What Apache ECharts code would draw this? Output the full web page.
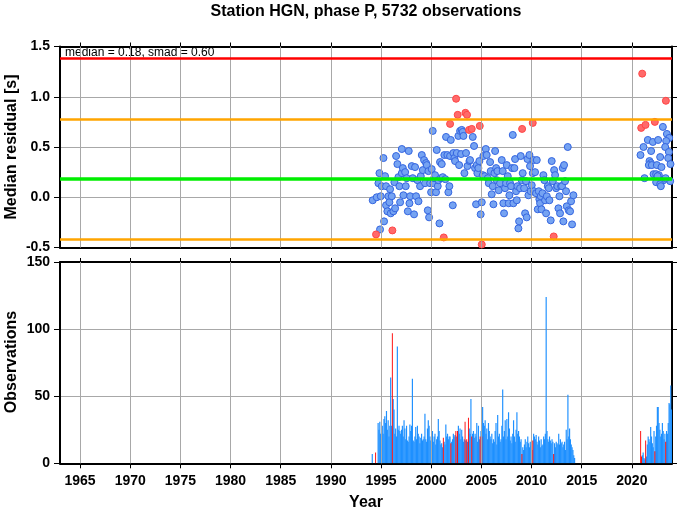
<!DOCTYPE html>
<html><head><meta charset="utf-8">
<script src="https://cdn.jsdelivr.net/npm/echarts@6/dist/echarts.min.js"></script>
<style>html,body{margin:0;padding:0;background:#fff}#c{width:678px;height:511px}</style>
</head><body><div id="c"></div>
<script>
const titleText = 'Station HGN, phase P, 5732 observations';
const medianVal = 0.18, smadVal = 0.60;
const refLevels = { red: 1.38, orangeHi: 0.78, green: 0.18, orangeLo: -0.42 };
const xTickYears = [1965,1970,1975,1980,1985,1990,1995,2000,2005,2010,2015,2020];

const residualBlue = [
[1994.17,-0.03],[1994.57,0.0],[1994.74,0.14],[1994.84,0.24],[1994.97,0.01],[1995.24,0.39],[1995.3,-0.24],[1994.9,-0.32],
[1995.07,0.11],[1995.4,0.21],[1995.5,0.11],[1995.5,-0.08],[1995.63,-0.14],[1995.73,0.01],[1995.83,-0.05],[1995.9,0.08],
[1995.97,-0.16],[1996.07,0.01],[1996.23,-0.14],[1996.33,0.15],[1996.4,-0.11],[1996.5,0.41],[1996.63,0.33],[1996.73,0.2],
[1996.83,0.11],[1996.9,-0.05],[1997.07,0.48],[1997.07,0.24],[1997.17,0.29],[1997.23,0.02],[1997.4,0.25],[1997.46,0.11],
[1997.56,0.19],[1997.67,-0.14],[1997.76,0.46],[1997.83,-0.06],[1997.9,0.01],[1998.06,0.31],[1998.16,0.19],[1998.29,-0.17],
[1998.39,0.3],[1998.49,0.01],[1998.63,0.17],[1998.73,-0.04],[1998.89,0.11],[1998.96,0.21],[1999.06,0.42],[1999.16,0.27],
[1999.29,0.37],[1999.39,0.14],[1999.49,0.34],[1999.56,0.32],[1999.66,-0.13],[1999.72,0.26],[1999.79,-0.2],[1999.89,0.14],
[1999.99,0.05],[2000.05,0.28],[2000.15,0.66],[2000.22,0.14],[2000.29,0.19],[2000.38,0.22],[2000.48,0.05],[2000.55,0.47],
[2000.65,0.11],[2000.72,0.17],[2000.82,-0.26],[2000.88,0.35],[2000.98,0.19],[2001.05,0.33],[2001.15,0.2],[2001.31,0.42],
[2001.41,0.18],[2001.48,0.6],[2001.61,0.42],[2001.71,0.05],[2001.81,0.11],[2001.88,0.41],[2001.95,0.57],[2002.15,-0.08],
[2002.21,0.44],[2002.31,0.39],[2002.38,0.36],[2002.55,0.44],[2002.71,0.61],[2002.78,0.32],[2002.88,0.66],[2002.98,0.43],
[2003.04,0.67],[2003.14,0.65],[2003.21,0.61],[2003.31,0.24],[2003.47,0.44],[2003.61,0.31],[2003.81,0.36],[2003.87,0.37],
[2004.14,0.6],[2004.27,0.51],[2004.37,0.29],[2004.47,-0.07],[2004.54,0.32],[2004.6,0.24],[2004.7,0.29],[2004.8,0.36],
[2004.93,-0.17],[2005.04,-0.05],[2005.14,0.22],[2005.2,0.41],[2005.34,0.21],[2005.44,0.48],[2005.53,0.42],[2005.64,0.19],
[2005.74,0.14],[2005.87,0.35],[2005.93,0.26],[2006.03,0.03],[2006.13,0.11],[2006.2,-0.07],[2006.3,0.24],[2006.37,0.46],
[2006.47,0.29],[2006.53,0.17],[2006.6,0.26],[2006.73,0.07],[2006.86,0.14],[2007.03,0.37],[2007.13,0.26],[2007.19,-0.06],
[2007.26,-0.16],[2007.36,0.09],[2007.46,0.14],[2007.53,0.32],[2007.63,0.21],[2007.73,-0.06],[2007.79,0.02],[2007.86,0.14],
[2007.96,0.11],[2008.06,0.29],[2008.13,0.62],[2008.19,-0.06],[2008.29,0.29],[2008.36,0.38],[2008.46,0.06],[2008.53,-0.03],
[2008.59,0.11],[2008.69,-0.31],[2008.76,-0.24],[2008.86,0.09],[2008.92,0.41],[2009.02,0.17],[2009.12,0.24],[2009.26,0.09],
[2009.36,-0.16],[2009.45,0.16],[2009.52,-0.2],[2009.59,0.38],[2009.69,0.02],[2009.79,0.42],[2009.85,0.31],[2009.92,0.06],
[2010.02,0.12],[2010.12,0.24],[2010.19,0.37],[2010.25,0.06],[2010.35,0.25],[2010.45,0.04],[2010.52,0.37],[2010.62,-0.12],
[2010.72,0.06],[2010.78,-0.02],[2010.85,-0.06],[2010.92,0.01],[2010.99,-0.12],[2011.09,0.04],[2011.18,0.22],[2011.28,0.17],
[2011.35,-0.03],[2011.45,-0.16],[2011.52,0.01],[2011.62,0.11],[2011.72,0.09],[2011.78,-0.03],[2011.91,-0.23],[2012.01,0.36],
[2012.12,0.16],[2012.25,0.27],[2012.35,0.22],[2012.45,0.09],[2012.58,0.11],[2012.68,-0.11],[2012.78,0.01],[2012.84,-0.16],
[2012.94,0.11],[2013.04,0.11],[2013.11,0.29],[2013.17,-0.24],[2013.24,0.32],[2013.34,0.16],[2013.44,0.06],[2013.51,-0.09],
[2013.61,0.5],[2013.71,-0.13],[2013.84,-0.14],[2013.94,-0.04],[2014.04,-0.27],[2014.17,0.02],
[2023.09,0.7],[2023.49,0.63],[2023.72,0.59],[2021.59,0.57],[2022.09,0.55],[2022.62,0.57],[2023.42,0.56],[2021.16,0.5],
[2023.32,0.5],[2021.92,0.46],[2020.86,0.42],[2023.69,0.45],[2022.82,0.4],[2023.62,0.39],[2021.76,0.36],[2021.89,0.34],
[2021.69,0.32],[2021.99,0.32],[2022.49,0.32],[2022.95,0.3],[2023.85,0.33],[2022.16,0.23],[2022.42,0.23],[2022.69,0.22],
[2021.26,0.19],[2022.56,0.21],[2023.16,0.17],[2023.82,0.16],[2022.42,0.15],[2022.82,0.13],[2022.89,0.11],[2023.36,0.19]
];
const residualRed = [
[1994.5,-0.37],[1996.13,-0.33],[2001.25,-0.4],[2001.88,0.73],[2002.48,0.98],[2002.64,0.82],[2003.41,0.84],[2003.57,0.82],
[2003.77,0.67],[2004.04,0.68],[2004.84,0.71],[2005.04,-0.47],[2009.06,0.68],[2010.12,0.74],[2012.21,-0.39],
[2021.03,1.23],[2023.39,0.96],[2020.93,0.69],[2021.36,0.72],[2022.29,0.75]
];

// monthly observation counts, first block starts Jan 1994
const obsStart1 = [1994, 1];
const obsCounts1 = [
0,7,0,0,0,8,0,0,30,25,31,22,
23,28,22,33,35,30,39,25,32,20,28,64,
28,97,48,40,22,26,20,87,25,28,24,22,
25,28,20,32,26,18,28,17,16,20,29,24,
28,63,17,16,20,27,18,28,22,20,15,19,
22,17,18,20,37,18,16,26,32,28,20,17,
17,24,16,20,22,14,18,20,33,24,17,14,
15,12,19,16,14,29,20,22,18,20,20,15,
16,18,22,20,21,24,20,24,28,22,26,18,
25,20,16,18,31,17,18,16,34,26,22,48,
20,22,24,19,22,20,30,16,28,18,20,24,
20,42,30,28,32,22,26,18,30,24,20,18,
22,15,18,16,24,30,14,36,20,22,16,18,
28,55,20,24,32,18,33,20,38,26,17,20,
15,22,32,20,16,25,38,22,24,20,16,18,
7,12,10,14,18,12,16,20,15,12,16,13,
10,17,22,20,18,21,16,14,20,17,12,18,
13,14,20,18,22,124,24,18,16,20,17,15,
18,16,7,15,12,16,15,14,22,14,18,15,
16,12,14,16,10,25,18,51,20,26,18,14,
12,10,6,4
];
// second block starts Nov 2020
const obsStart2 = [2020, 11];
const obsCounts2 = [
24,5,
6,8,4,3,17,5,14,20,18,16,27,20,
15,12,24,9,20,28,42,42,30,25,20,22,
30,24,18,22,16,24,22,30,45,44,58,40
];
const redMonths = ['1994-06','1996-02','2001-03','2001-12','2002-06','2002-08','2003-05','2003-07','2003-09',
'2004-01','2004-11','2005-01','2009-01','2010-02','2012-03','2020-11','2020-12','2021-05','2022-04','2023-05'];

function buildBars(start, counts, blue, red) {
  counts.forEach((c, i) => {
    let y = start[0], m = start[1] + i;
    y += Math.floor((m - 1) / 12); m = ((m - 1) % 12) + 1;
    const key = y + '-' + (m < 10 ? '0' + m : '' + m);
    const x = y + (m - 0.5) / 12;
    if (c <= 0) return;
    (redMonths.includes(key) ? red : blue).push([x, c]);
  });
}
const barsBlue = [], barsRed = [];
buildBars(obsStart1, obsCounts1, barsBlue, barsRed);
buildBars(obsStart2, obsCounts2, barsBlue, barsRed);

const FONT = '"Liberation Sans", Arial, Helvetica, sans-serif';
const GRIDC = '#a8a8a8';

function barRender(color, frac) {
  return function (params, api) {
    const x = api.value(0), v = api.value(1);
    const p0 = api.coord([x - frac / 24, v]);
    const p1 = api.coord([x + frac / 24, 0]);
    return { type: 'rect', shape: { x: p0[0], y: p0[1], width: p1[0] - p0[0], height: p1[1] - p0[1] },
      style: { fill: color } };
  };
}

const xBase = { type: 'value', min: 1963, max: 2024, splitLine: { show: false },
  axisLine: { show: true, onZero: false, lineStyle: { color: '#000', width: 2 } } };
const tickStyle = { show: true, inside: false, length: 5, customValues: xTickYears, lineStyle: { color: '#000', width: 1 } };

const vGrid = (xi, yi) => ({
  type: 'scatter', xAxisIndex: xi, yAxisIndex: yi, data: [], z: 1, silent: true,
  markLine: { silent: true, symbol: 'none', animation: false, label: { show: false },
    lineStyle: { color: GRIDC, width: 1, type: 'solid' },
    data: xTickYears.map(v => ({ xAxis: v })) }
});

const chart = echarts.init(document.getElementById('c'), null, { renderer: 'canvas' });
chart.setOption({
  animation: false,
  backgroundColor: '#fff',
  grid: [
    { left: 60, right: 6, top: 46.5, height: 201, containLabel: false },
    { left: 60, right: 6, top: 262, height: 201.3, containLabel: false }
  ],
  xAxis: [
    Object.assign({}, xBase, { gridIndex: 0, position: 'bottom', axisTick: { show: false }, axisLabel: { show: false } }),
    Object.assign({}, xBase, { gridIndex: 0, position: 'top', axisTick: Object.assign({}, tickStyle, { length: 4 }), axisLabel: { show: false } }),
    Object.assign({}, xBase, { gridIndex: 1, position: 'bottom', axisTick: tickStyle,
      axisLabel: { show: true, customValues: xTickYears, margin: 11, color: '#000', fontFamily: FONT, fontWeight: 'bold', fontSize: 14, formatter: v => String(v) } }),
    Object.assign({}, xBase, { gridIndex: 1, position: 'top', axisTick: Object.assign({}, tickStyle, { length: 4 }), axisLabel: { show: false } })
  ],
  yAxis: [
    { type: 'value', gridIndex: 0, position: 'left', min: -0.5, max: 1.5, interval: 0.5,
      axisLine: { show: true, lineStyle: { color: '#000', width: 2 } },
      axisTick: { show: true, inside: false, length: 6, lineStyle: { color: '#000' } },
      axisLabel: { color: '#000', fontFamily: FONT, fontWeight: 'bold', fontSize: 14, margin: 10, formatter: v => v.toFixed(1) },
      splitLine: { show: true, lineStyle: { color: GRIDC, width: 1 } } },
    { type: 'value', gridIndex: 0, position: 'right', min: -0.5, max: 1.5, interval: 0.5,
      axisLine: { show: true, lineStyle: { color: '#000', width: 2 } },
      axisTick: { show: true, inside: false, length: 5, lineStyle: { color: '#000' } },
      axisLabel: { show: false }, splitLine: { show: false } },
    { type: 'value', gridIndex: 1, position: 'left', min: 0, max: 150, interval: 50,
      axisLine: { show: true, lineStyle: { color: '#000', width: 2 } },
      axisTick: { show: true, inside: false, length: 6, lineStyle: { color: '#000' } },
      axisLabel: { color: '#000', fontFamily: FONT, fontWeight: 'bold', fontSize: 14, margin: 10 },
      splitLine: { show: true, lineStyle: { color: GRIDC, width: 1 } } },
    { type: 'value', gridIndex: 1, position: 'right', min: 0, max: 150, interval: 50,
      axisLine: { show: true, lineStyle: { color: '#000', width: 2 } },
      axisTick: { show: true, inside: false, length: 5, lineStyle: { color: '#000' } },
      axisLabel: { show: false }, splitLine: { show: false } }
  ],
  series: [
    vGrid(0, 0),
    vGrid(2, 2),
    { type: 'scatter', xAxisIndex: 0, yAxisIndex: 0, data: [], z: 2, silent: true,
      markLine: { silent: true, symbol: 'none', animation: false, label: { show: false },
        data: [
          { yAxis: refLevels.red, lineStyle: { color: '#ff0000', width: 2.5, type: 'solid' } },
          { yAxis: refLevels.orangeHi, lineStyle: { color: '#ffa500', width: 2.5, type: 'solid' } },
          { yAxis: refLevels.green, lineStyle: { color: '#00ee00', width: 3.5, type: 'solid' } },
          { yAxis: refLevels.orangeLo, lineStyle: { color: '#ffa500', width: 2.5, type: 'solid' } }
        ] } },
    { type: 'scatter', xAxisIndex: 0, yAxisIndex: 0, data: residualBlue, symbol: 'circle', symbolSize: 7, z: 3,
      itemStyle: { color: '#75a3f2', borderColor: '#3465e0', borderWidth: 1, opacity: 1 } },
    { type: 'scatter', xAxisIndex: 0, yAxisIndex: 0, data: residualRed, symbol: 'circle', symbolSize: 7, z: 4,
      itemStyle: { color: '#ff6a6a', borderColor: '#ff4545', borderWidth: 1, opacity: 1 } },
    { type: 'custom', xAxisIndex: 2, yAxisIndex: 2, data: barsBlue, renderItem: barRender('#1e90ff', 1.4), z: 3, clip: true },
    { type: 'custom', xAxisIndex: 2, yAxisIndex: 2, data: barsRed, renderItem: barRender('#ff0000', 1.1), z: 4, clip: true }
  ],
  graphic: [
    { type: 'text', x: 366, y: 4, z: 10, style: { text: titleText, fill: '#000', font: 'bold 16px ' + FONT, textAlign: 'center', textVerticalAlign: 'top' } },
    { type: 'text', x: 65, y: 47, z: 1, style: { text: 'median = ' + medianVal.toFixed(2) + ', smad = ' + smadVal.toFixed(2), fill: '#000', font: '12px ' + FONT, textAlign: 'left', textVerticalAlign: 'top' } },
    { type: 'text', x: 12, y: 147, rotation: Math.PI / 2, style: { text: 'Median residual [s]', fill: '#000', font: 'bold 16px ' + FONT, textAlign: 'center', textVerticalAlign: 'middle' } },
    { type: 'text', x: 12, y: 362, rotation: Math.PI / 2, style: { text: 'Observations', fill: '#000', font: 'bold 16px ' + FONT, textAlign: 'center', textVerticalAlign: 'middle' } },
    { type: 'text', x: 366, y: 503, style: { text: 'Year', fill: '#000', font: 'bold 16px ' + FONT, textAlign: 'center', textVerticalAlign: 'middle' } }
  ]
});
</script></body></html>
